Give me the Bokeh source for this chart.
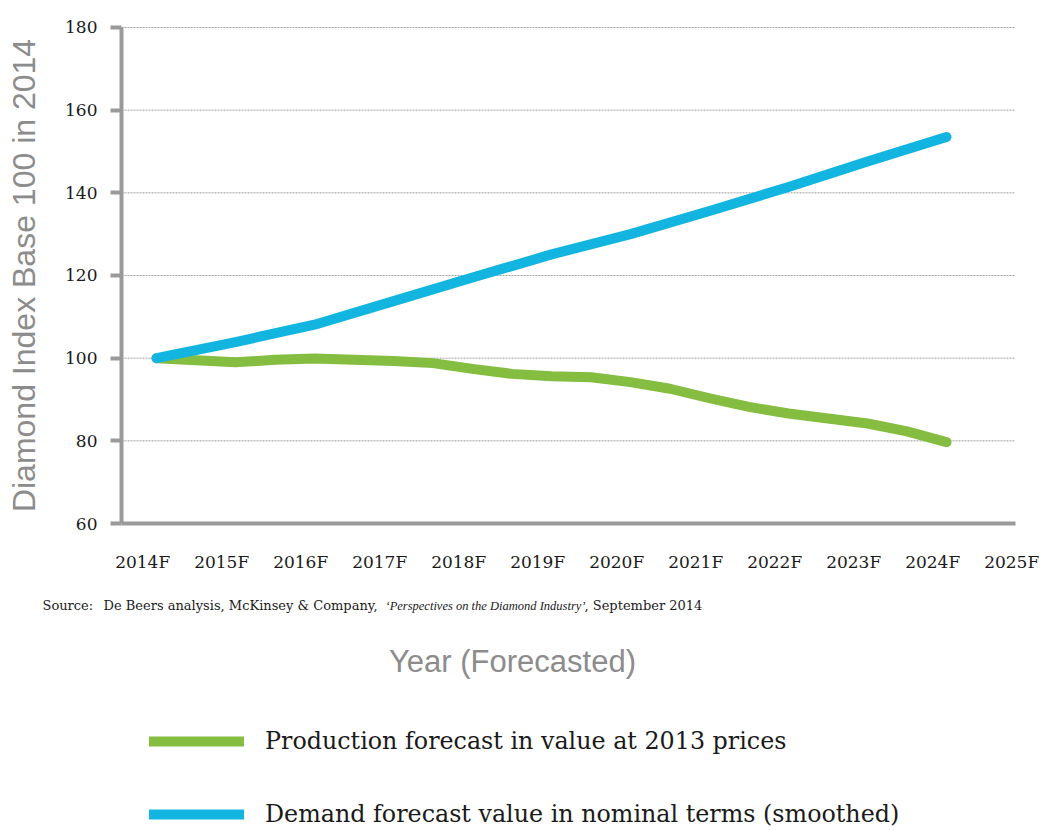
from bokeh.plotting import figure
from bokeh.models import Range1d, FixedTicker, Label, Legend, LegendItem
from bokeh.embed import file_html
from bokeh.resources import INLINE

# ---- data ----
prod_t = [2014, 2014.5, 2015, 2015.5, 2016, 2016.5, 2017, 2017.5, 2018, 2018.5, 2019,
          2019.5, 2020, 2020.5, 2021, 2021.5, 2022, 2022.5, 2023, 2023.5, 2024]
production = [100.0, 99.5, 99.0, 99.6, 99.9, 99.6, 99.3, 98.8, 97.4, 96.2, 95.6,
              95.4, 94.2, 92.6, 90.3, 88.2, 86.6, 85.4, 84.2, 82.3, 79.7]
years = [2014, 2015, 2016, 2017, 2018, 2019, 2020, 2021, 2022, 2023, 2024]
demand = [100.0, 103.9, 108.1, 113.8, 119.5, 125.1, 130.0, 135.6, 141.4, 147.6, 153.5]
tick_years = [2014, 2015, 2016, 2017, 2018, 2019, 2020, 2021, 2022, 2023, 2024, 2025]
tick_labels = ["2014F", "2015F", "2016F", "2017F", "2018F", "2019F", "2020F",
               "2021F", "2022F", "2023F", "2024F", "2025F"]
y_ticks = [60, 80, 100, 120, 140, 160, 180]
series_names = ["Production forecast in value at 2013 prices",
                "Demand forecast value in nominal terms (smoothed)"]

# ---- style / layout ----
GREEN = "#84BD40"
BLUE = "#12B5E0"
AXIS = "#9a9a9a"
label_shift = 0.175          # tick labels sit slightly left of the data years
X_LO, X_HI = 2013.557, 2024.873   # extent of the plotting area (axis line)
Y_LO, Y_HI = 60, 180

p = figure(width=1048, height=830, output_backend="svg", toolbar_location=None,
           x_range=Range1d(2012.0253, 2025.291), y_range=Range1d(-14.274, 186.532),
           min_border=0, title=None)
p.outline_line_color = None
p.background_fill_color = "white"
p.border_fill_color = "white"
p.xgrid.visible = False
p.ygrid.visible = False

# dashed grid lines across the plotting area
grid_y = [t for t in y_ticks if t > Y_LO]
p.segment(x0=[X_LO] * len(grid_y), x1=[X_HI] * len(grid_y), y0=grid_y, y1=grid_y,
          line_color="#a0a0a0", line_width=1, line_dash="2 1")

g = p.line(prod_t, production, line_color=GREEN, line_width=10, line_cap="round",
           line_join="round")
b = p.line(years, demand, line_color=BLUE, line_width=10, line_cap="round",
           line_join="round")

# x axis
tick_pos = [round(y - label_shift, 3) for y in tick_years]
xa = p.xaxis[0]
xa.fixed_location = Y_LO
xa.bounds = (X_LO, X_HI)
xa.ticker = FixedTicker(ticks=tick_pos)
xa.major_label_overrides = {t: l for t, l in zip(tick_pos, tick_labels)}
xa.major_tick_line_color = None
xa.major_tick_out = 0
xa.major_tick_in = 0
xa.minor_tick_line_color = None
xa.axis_line_width = 4
xa.axis_line_color = AXIS
xa.major_label_standoff = 28
xa.major_label_text_font = "DejaVu Serif"
xa.major_label_text_font_size = "17px"
xa.major_label_text_color = "#1a1a1a"

# y axis
ya = p.yaxis[0]
ya.fixed_location = X_LO
ya.bounds = (Y_LO, Y_HI)
ya.ticker = FixedTicker(ticks=y_ticks)
ya.major_tick_out = 11
ya.major_tick_in = 0
ya.major_tick_line_width = 4
ya.major_tick_line_color = AXIS
ya.minor_tick_line_color = None
ya.axis_line_width = 4
ya.axis_line_color = AXIS
ya.major_label_standoff = 13
ya.major_label_text_font = "DejaVu Serif"
ya.major_label_text_font_size = "17px"
ya.major_label_text_color = "#1a1a1a"
ya.major_label_text_baseline = "alphabetic"
ya.axis_label = "Diamond Index Base 100 in 2014"
ya.axis_label_text_font = "Liberation Sans"
ya.axis_label_text_font_style = "normal"
ya.axis_label_text_font_size = "32px"
ya.axis_label_text_color = "#8c8c8c"
ya.axis_label_standoff = 20

# x title
p.add_layout(Label(x=512, y=169, x_units="screen", y_units="screen",
                   text="Year (Forecasted)", text_align="center",
                   text_baseline="middle", text_font="Liberation Sans",
                   text_font_size="31px", text_color="#8c8c8c"))

# source line
src_parts = [
    (42, "Source:", "DejaVu Serif", "normal", "13px"),
    (103, "De Beers analysis, McKinsey & Company,", "DejaVu Serif", "normal", "13px"),
    (385, "\u2018Perspectives on the Diamond Industry\u2019", "Liberation Serif", "italic", "12.5px"),
    (584, ", September 2014", "DejaVu Serif", "normal", "13px"),
]
for sx, txt, fnt, sty, fs in src_parts:
    p.add_layout(Label(x=sx, y=225, x_units="screen", y_units="screen", text=txt,
                       text_align="left", text_baseline="middle", text_font=fnt,
                       text_font_style=sty, text_font_size=fs,
                       text_color="#1a1a1a"))

legend = Legend(items=[LegendItem(label=series_names[0], renderers=[g]),
                       LegendItem(label=series_names[1], renderers=[b])],
                location=(149, 1), orientation="vertical",
                glyph_width=95, glyph_height=30, label_height=30,
                label_standoff=21, spacing=43, padding=0, margin=0,
                border_line_color=None, background_fill_alpha=0,
                label_text_font="DejaVu Serif", label_text_font_size="23.8px",
                label_text_color="#1a1a1a")
p.add_layout(legend)

open("out.html", "w").write(file_html(p, INLINE))
